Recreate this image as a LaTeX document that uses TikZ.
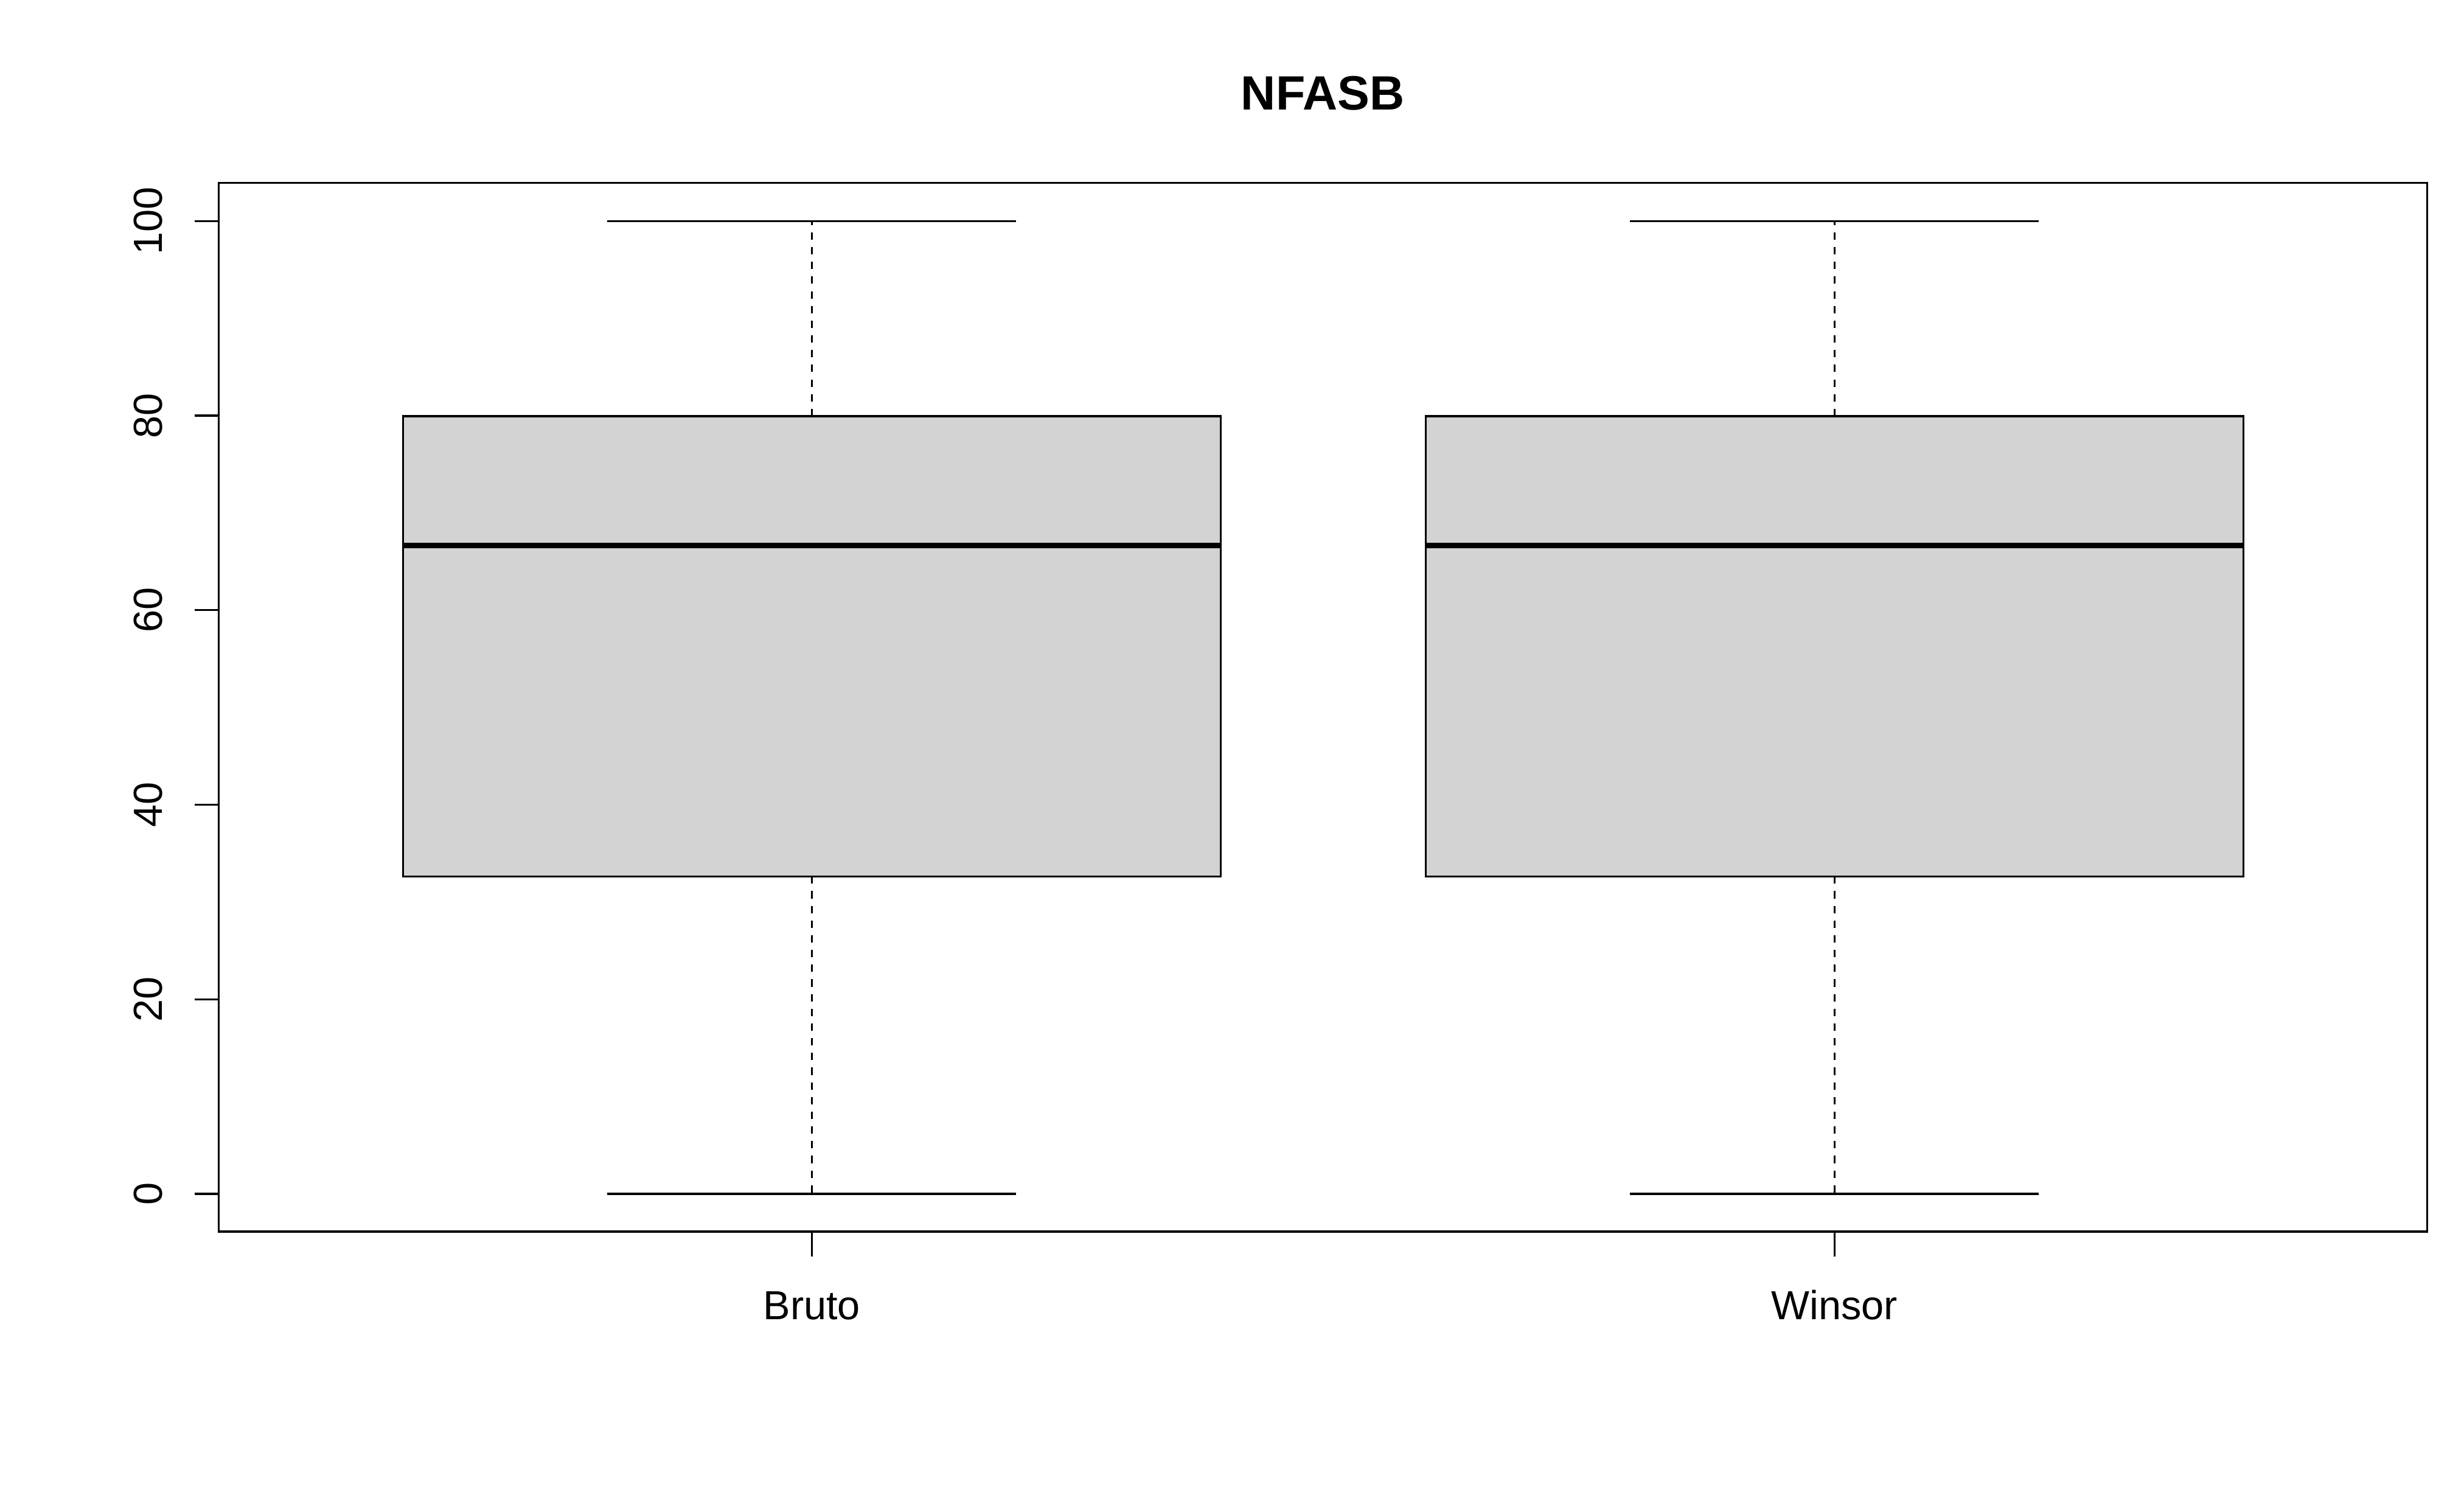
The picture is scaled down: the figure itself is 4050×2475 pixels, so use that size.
\documentclass[tikz,border=0pt]{standalone}
\usepackage{fontspec}
\setmainfont{Liberation Sans}
\usepackage{xcolor}
\definecolor{boxgrey}{RGB}{211,211,211}

\begin{document}
\begin{tikzpicture}[x=0.24pt, y=-0.24pt,
    thin line/.style={line width=0.75pt},
    whisk/.style={thin line, dash pattern=on 2.9pt off 2.9pt},
    label text/.style={inner sep=0pt, font=\fontsize{16}{19}\selectfont}]
	\useasboundingbox (0,0) rectangle (4050,2475);
	% frame of the plot
	\draw[thin line] (359.3,300.7) rectangle (3989.3,2024);
	\node[inner sep=0pt, anchor=base, font=\fontsize{19}{23}\selectfont\bfseries] (title) at (2174,181) {NFASB};
	% y axis
	\foreach \v in {0,20,...,100}{
		\draw[thin line] (320,{1962-15.987*\v}) -- (359.3,{1962-15.987*\v});
		\node[label text, rotate=90, anchor=base] (ylab\v) at (266,{1962-15.987*\v}) {\v};
	}
	% one box per group
	\foreach \cx/\lab in {1334.3/Bruto, 3015.3/Winsor}{
		\draw[whisk] (\cx,1440.3) -- (\cx,1962);
		\draw[whisk] (\cx,684) -- (\cx,363.3);
		\draw[thin line] ({\cx-336},1962) -- ({\cx+336},1962);
		\draw[thin line] ({\cx-336},363.3) -- ({\cx+336},363.3);
		\draw[thin line, fill=boxgrey] ({\cx-672},684) rectangle ({\cx+672},1440.3);
		\draw[line width=2.25pt] ({\cx-672},896.3) -- ({\cx+672},896.3);
		\draw[thin line] (\cx,2024) -- (\cx,2065);
		\node[label text, anchor=base] (xlab\lab) at (\cx,2168) {\lab};
	}
\end{tikzpicture}
\end{document}
